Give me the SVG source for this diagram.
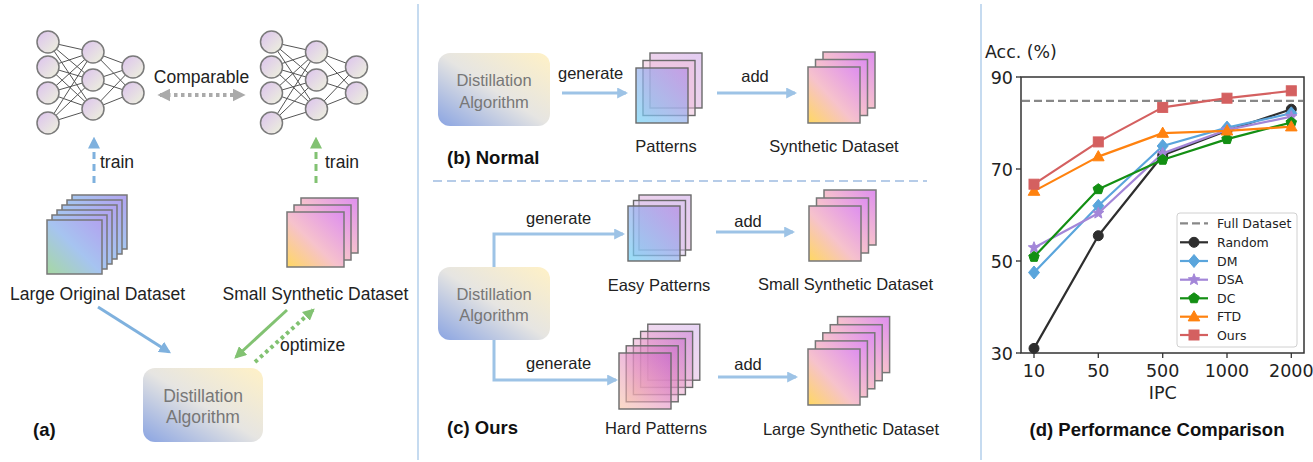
<svg xmlns="http://www.w3.org/2000/svg" xmlns:xlink="http://www.w3.org/1999/xlink" width="1313" height="462" viewBox="0 0 1313 462">
  <defs>
    <style>
      .t { font-family: "Liberation Sans", Arial, sans-serif; fill: #222; }
      .ta { font-size: 17.5px; }
      .tb { font-size: 16.5px; }
      .bold { font-family: "Liberation Sans", Arial, sans-serif; font-weight: bold; font-size: 18.5px; fill: #111; }
      .alg { font-family: "Liberation Sans", Arial, sans-serif; fill: #777; text-anchor: middle; }
      .mid { text-anchor: middle; }
      .neuron { fill: url(#gNeuron); stroke: #7a7a7a; stroke-width: 1.5; }
      .wire { fill: none; stroke: #555; stroke-width: 1; }
      .sheet { stroke: #777; stroke-width: 1.5; }
      .sheetd { stroke: #6a6a6a; stroke-width: 1.4; }
      .flow { fill: none; stroke: #9dc3e6; stroke-width: 3; }
      .ch { font-family: "DejaVu Sans", sans-serif; fill: #222; }
      .tick { stroke: #333; stroke-width: 1.3; }
      .series { fill: none; stroke-width: 2.2; stroke-linejoin: round; }
    </style>
    <linearGradient id="gNeuron" x1="0" y1="0" x2="1" y2="1">
      <stop offset="0" stop-color="#dcc2ee"/>
      <stop offset="1" stop-color="#eef3dc"/>
    </linearGradient>
    <linearGradient id="gAlgo" x1="0" y1="1" x2="1" y2="0">
      <stop offset="0" stop-color="#8aa4e2"/>
      <stop offset="0.5" stop-color="#e6e5e2"/>
      <stop offset="1" stop-color="#fff1c6"/>
    </linearGradient>
    <linearGradient id="gOrig" x1="0" y1="1" x2="1" y2="0">
      <stop offset="0" stop-color="#a6d8a2"/>
      <stop offset="0.5" stop-color="#a6c4f0"/>
      <stop offset="1" stop-color="#b2a2f0"/>
    </linearGradient>
    <linearGradient id="gSyn" x1="0" y1="1" x2="1" y2="0">
      <stop offset="0" stop-color="#ffd862"/>
      <stop offset="0.45" stop-color="#f6c2cc"/>
      <stop offset="1" stop-color="#de8ef0"/>
    </linearGradient>
    <linearGradient id="gEasy" x1="0" y1="1" x2="1" y2="0">
      <stop offset="0" stop-color="#72d2f4"/>
      <stop offset="1" stop-color="#b88ce4"/>
    </linearGradient>
    <linearGradient id="gHard" x1="0" y1="1" x2="1" y2="0">
      <stop offset="0" stop-color="#f8c4a2"/>
      <stop offset="0.5" stop-color="#e492c4"/>
      <stop offset="1" stop-color="#c668cc"/>
    </linearGradient>
    <linearGradient id="gBack" x1="0" y1="1" x2="1" y2="0">
      <stop offset="0" stop-color="#f2c6dc"/>
      <stop offset="1" stop-color="#d6b6ec"/>
    </linearGradient>
    <marker id="mBlue" viewBox="0 0 10 10" refX="8" refY="5" markerUnits="userSpaceOnUse" markerWidth="11" markerHeight="11" orient="auto">
      <path d="M0,0 L10,5 L0,10 Z" fill="#9dc3e6"/>
    </marker>
    <marker id="mBlueA" viewBox="0 0 10 10" refX="8" refY="5" markerUnits="userSpaceOnUse" markerWidth="12" markerHeight="12" orient="auto">
      <path d="M0,0 L10,5 L0,10 Z" fill="#7fb1de"/>
    </marker>
    <marker id="mGreen" viewBox="0 0 10 10" refX="8" refY="5" markerUnits="userSpaceOnUse" markerWidth="12" markerHeight="12" orient="auto">
      <path d="M0,0 L10,5 L0,10 Z" fill="#82c272"/>
    </marker>
    <marker id="mGray" viewBox="0 0 10 10" refX="8" refY="5" markerUnits="userSpaceOnUse" markerWidth="13" markerHeight="13" orient="auto-start-reverse">
      <path d="M0,0 L10,5 L0,10 Z" fill="#aaaaaa"/>
    </marker>
    <!-- chart marker shapes -->
    <circle id="pCircle" r="5"/>
    <path id="pDiamond" d="M0,-6.5 L5.5,0 L0,6.5 L-5.5,0 Z"/>
    <path id="pStar" d="M0,-6 L1.53,-2.1 L5.71,-1.85 L2.47,0.8 L3.53,4.85 L0,2.6 L-3.53,4.85 L-2.47,0.8 L-5.71,-1.85 L-1.53,-2.1 Z"/>
    <path id="pPent" d="M0,-5.5 L5.23,-1.7 L3.23,4.45 L-3.23,4.45 L-5.23,-1.7 Z"/>
    <path id="pTri" d="M0,-6 L5.8,4.2 L-5.8,4.2 Z"/>
    <rect id="pSquare" x="-5" y="-5" width="10" height="10"/>
  </defs>

  <rect width="1313" height="462" fill="#ffffff"/>

  <!-- panel separators -->
  <g id="separators">
    <line x1="418" y1="4" x2="418" y2="460" stroke="#c6dbf0" stroke-width="2"/>
    <line x1="981" y1="4" x2="981" y2="460" stroke="#c6dbf0" stroke-width="2"/>
    <line x1="433" y1="181" x2="927" y2="181" stroke="#b6cce8" stroke-width="2" stroke-dasharray="9 5"/>
  </g>

  <!-- ===== panel (a) ===== -->
  <g id="net-large">
    <path class="wire" d="M48,42 L93,52 M48,42 L93,80 M48,42 L93,109 M48,67 L93,52 M48,67 L93,80 M48,67 L93,109 M48,93 L93,52 M48,93 L93,80 M48,93 L93,109 M48,123 L93,52 M48,123 L93,80 M48,123 L93,109 M93,52 L133,67 M93,52 L133,93 M93,80 L133,67 M93,80 L133,93 M93,109 L133,67 M93,109 L133,93"/>
    <circle class="neuron" cx="48" cy="42" r="11"/>
    <circle class="neuron" cx="48" cy="67" r="11"/>
    <circle class="neuron" cx="48" cy="93" r="11"/>
    <circle class="neuron" cx="48" cy="123" r="11"/>
    <circle class="neuron" cx="93" cy="52" r="11"/>
    <circle class="neuron" cx="93" cy="80" r="11"/>
    <circle class="neuron" cx="93" cy="109" r="11"/>
    <circle class="neuron" cx="133" cy="67" r="11"/>
    <circle class="neuron" cx="133" cy="93" r="11"/>
  </g>

  <g id="net-small" transform="translate(223.5,0)">
    <path class="wire" d="M48,42 L93,52 M48,42 L93,80 M48,42 L93,109 M48,67 L93,52 M48,67 L93,80 M48,67 L93,109 M48,93 L93,52 M48,93 L93,80 M48,93 L93,109 M48,123 L93,52 M48,123 L93,80 M48,123 L93,109 M93,52 L133,67 M93,52 L133,93 M93,80 L133,67 M93,80 L133,93 M93,109 L133,67 M93,109 L133,93"/>
    <circle class="neuron" cx="48" cy="42" r="11"/>
    <circle class="neuron" cx="48" cy="67" r="11"/>
    <circle class="neuron" cx="48" cy="93" r="11"/>
    <circle class="neuron" cx="48" cy="123" r="11"/>
    <circle class="neuron" cx="93" cy="52" r="11"/>
    <circle class="neuron" cx="93" cy="80" r="11"/>
    <circle class="neuron" cx="93" cy="109" r="11"/>
    <circle class="neuron" cx="133" cy="67" r="11"/>
    <circle class="neuron" cx="133" cy="93" r="11"/>
  </g>

  <g id="dataset-large-original">
    <rect class="sheet" x="72" y="195" width="55" height="54" fill="url(#gOrig)"/>
    <rect class="sheet" x="67" y="200" width="55" height="54" fill="url(#gOrig)"/>
    <rect class="sheet" x="62" y="205" width="55" height="54" fill="url(#gOrig)"/>
    <rect class="sheet" x="57" y="210" width="55" height="54" fill="url(#gOrig)"/>
    <rect class="sheet" x="52" y="215" width="55" height="54" fill="url(#gOrig)"/>
    <rect class="sheet" x="47" y="220" width="55" height="54" fill="url(#gOrig)"/>
    <text class="t ta mid" x="97.5" y="300">Large Original Dataset</text>
  </g>

  <g id="dataset-small-synthetic-a">
    <rect class="sheet" x="301" y="198" width="57" height="55" fill="url(#gSyn)"/>
    <rect class="sheet" x="294" y="205" width="57" height="55" fill="url(#gSyn)"/>
    <rect class="sheet" x="287" y="212" width="57" height="55" fill="url(#gSyn)"/>
    <text class="t ta mid" x="315.5" y="300">Small Synthetic Dataset</text>
  </g>

  <g id="algorithm-a">
    <rect x="143" y="368" width="120" height="74" rx="12" fill="url(#gAlgo)"/>
    <text class="alg" font-size="17.5" x="203" y="402">Distillation</text>
    <text class="alg" font-size="17.5" x="203" y="423">Algorithm</text>
  </g>

  <g id="connectors-a">
    <line x1="160" y1="95" x2="243" y2="95" stroke="#aaaaaa" stroke-width="4" stroke-dasharray="3.5 3.5" marker-start="url(#mGray)" marker-end="url(#mGray)"/>
    <text class="t ta mid" x="201.5" y="83">Comparable</text>
    <line x1="94" y1="183" x2="94" y2="139" stroke="#7fb1de" stroke-width="3" stroke-dasharray="7 5" marker-end="url(#mBlueA)"/>
    <text class="t ta" x="100" y="168">train</text>
    <line x1="316" y1="183" x2="316" y2="139" stroke="#82c272" stroke-width="3" stroke-dasharray="7 5" marker-end="url(#mGreen)"/>
    <text class="t ta" x="325" y="168">train</text>
    <line x1="98" y1="307" x2="169" y2="352" stroke="#7fb1de" stroke-width="3" marker-end="url(#mBlueA)"/>
    <line x1="287" y1="310" x2="236" y2="357" stroke="#82c272" stroke-width="3" marker-end="url(#mGreen)"/>
    <line x1="255" y1="362" x2="313" y2="310" stroke="#82c272" stroke-width="4" stroke-dasharray="3.5 3.5" marker-end="url(#mGreen)"/>
    <text class="t ta" x="280" y="351">optimize</text>
  </g>

  <text class="bold" x="33" y="436">(a)</text>

  <!-- ===== panel (b) ===== -->
  <g id="algorithm-b">
    <rect x="438" y="53" width="112" height="73" rx="12" fill="url(#gAlgo)"/>
    <text class="alg" font-size="16.5" x="494" y="86">Distillation</text>
    <text class="alg" font-size="16.5" x="494" y="108">Algorithm</text>
  </g>

  <g id="patterns-b">
    <rect class="sheetd" x="650" y="53" width="52" height="55" fill="url(#gBack)" fill-opacity="0.7"/>
    <rect class="sheetd" x="643" y="60.5" width="52" height="55" fill="#eec0dc" fill-opacity="0.55"/>
    <rect class="sheetd" x="636" y="68" width="52" height="55" fill="url(#gEasy)" fill-opacity="0.7"/>
    <text class="t tb mid" x="666" y="152">Patterns</text>
  </g>

  <g id="dataset-synthetic-b">
    <rect class="sheet" x="823" y="52" width="52" height="56" fill="url(#gSyn)"/>
    <rect class="sheet" x="815.5" y="59.5" width="52" height="56" fill="url(#gSyn)"/>
    <rect class="sheet" x="808" y="67" width="52" height="56" fill="url(#gSyn)"/>
    <text class="t tb mid" x="834" y="152">Synthetic Dataset</text>
  </g>

  <g id="connectors-b">
    <line class="flow" x1="562" y1="93" x2="626" y2="93" marker-end="url(#mBlue)"/>
    <text class="t tb" x="558" y="79">generate</text>
    <line class="flow" x1="717" y1="93" x2="795" y2="93" marker-end="url(#mBlue)"/>
    <text class="t tb mid" x="755" y="82">add</text>
  </g>

  <text class="bold" x="447" y="164">(b) Normal</text>

  <!-- ===== panel (c) ===== -->
  <g id="algorithm-c">
    <rect x="438" y="267" width="112" height="73" rx="12" fill="url(#gAlgo)"/>
    <text class="alg" font-size="16.5" x="494" y="300">Distillation</text>
    <text class="alg" font-size="16.5" x="494" y="321">Algorithm</text>
  </g>

  <g id="patterns-easy">
    <rect class="sheetd" x="639" y="195" width="52" height="55" fill="url(#gBack)" fill-opacity="0.7"/>
    <rect class="sheetd" x="633.5" y="200.5" width="52" height="55" fill="#d8c4ee" fill-opacity="0.55"/>
    <rect class="sheetd" x="628" y="206" width="52" height="55" fill="url(#gEasy)" fill-opacity="0.72"/>
    <text class="t tb mid" x="659" y="291">Easy Patterns</text>
  </g>

  <g id="dataset-small-synthetic-c">
    <rect class="sheet" x="824" y="190" width="52" height="55" fill="url(#gSyn)"/>
    <rect class="sheet" x="816.5" y="198" width="52" height="55" fill="url(#gSyn)"/>
    <rect class="sheet" x="809" y="206" width="52" height="55" fill="url(#gSyn)"/>
    <text class="t tb mid" x="845.5" y="290">Small Synthetic Dataset</text>
  </g>

  <g id="patterns-hard">
    <rect class="sheetd" x="647.8" y="324.2" width="52" height="56" fill="url(#gBack)" fill-opacity="0.6"/>
    <rect class="sheetd" x="640.6" y="331.4" width="52" height="56" fill="url(#gHard)" fill-opacity="0.45"/>
    <rect class="sheetd" x="633.4" y="338.6" width="52" height="56" fill="url(#gHard)" fill-opacity="0.45"/>
    <rect class="sheetd" x="626.2" y="345.8" width="52" height="56" fill="url(#gHard)" fill-opacity="0.5"/>
    <rect class="sheetd" x="619" y="353" width="52" height="56" fill="url(#gHard)" fill-opacity="0.6"/>
    <text class="t tb mid" x="656" y="434">Hard Patterns</text>
  </g>

  <g id="dataset-large-synthetic">
    <rect class="sheet" x="837.6" y="316.6" width="52" height="56" fill="url(#gSyn)"/>
    <rect class="sheet" x="830.2" y="324.7" width="52" height="56" fill="url(#gSyn)"/>
    <rect class="sheet" x="822.8" y="332.8" width="52" height="56" fill="url(#gSyn)"/>
    <rect class="sheet" x="815.4" y="340.9" width="52" height="56" fill="url(#gSyn)"/>
    <rect class="sheet" x="808" y="349" width="52" height="56" fill="url(#gSyn)"/>
    <text class="t tb mid" x="851" y="435">Large Synthetic Dataset</text>
  </g>

  <g id="connectors-c">
    <path class="flow" d="M494,267 V234 H623" marker-end="url(#mBlue)"/>
    <text class="t tb" x="526" y="224">generate</text>
    <path class="flow" d="M494,340 V380 H616" marker-end="url(#mBlue)"/>
    <text class="t tb" x="526" y="369">generate</text>
    <line class="flow" x1="716" y1="232" x2="793" y2="232" marker-end="url(#mBlue)"/>
    <text class="t tb mid" x="748" y="227">add</text>
    <line class="flow" x1="718" y1="377" x2="796" y2="377" marker-end="url(#mBlue)"/>
    <text class="t tb mid" x="748" y="370">add</text>
  </g>

  <text class="bold" x="447" y="434">(c) Ours</text>

  <!-- ===== panel (d): accuracy vs IPC ===== -->
  <g id="chart">
    <text class="ch" font-size="17.4" x="985" y="58">Acc. (%)</text>
    <!-- y axis ticks: 90/70/50/30 -->
    <g class="tick">
      <line x1="1016" y1="77" x2="1021" y2="77"/>
      <line x1="1016" y1="169" x2="1021" y2="169"/>
      <line x1="1016" y1="261" x2="1021" y2="261"/>
      <line x1="1016" y1="353" x2="1021" y2="353"/>
      <line x1="1034" y1="353" x2="1034" y2="358"/>
      <line x1="1098.3" y1="353" x2="1098.3" y2="358"/>
      <line x1="1162.7" y1="353" x2="1162.7" y2="358"/>
      <line x1="1227" y1="353" x2="1227" y2="358"/>
      <line x1="1291.3" y1="353" x2="1291.3" y2="358"/>
    </g>
    <g class="ch" font-size="17.5" text-anchor="end">
      <text x="1013" y="83.5">90</text>
      <text x="1013" y="175.5">70</text>
      <text x="1013" y="267.5">50</text>
      <text x="1013" y="359.5">30</text>
    </g>
    <g class="ch" font-size="17.5" text-anchor="middle">
      <text x="1034" y="377">10</text>
      <text x="1098.3" y="377">50</text>
      <text x="1162.7" y="377">500</text>
      <text x="1227" y="377">1000</text>
      <text x="1291.3" y="377">2000</text>
      <text x="1162.7" y="399">IPC</text>
    </g>

    <!-- full-dataset reference -->
    <line x1="1022" y1="100.9" x2="1303" y2="100.9" stroke="#888" stroke-width="2.2" stroke-dasharray="8 4"/>

    <g id="series-random" fill="#2e2e2e" stroke="#2e2e2e">
      <polyline class="series" points="1034,348.4 1098.3,235.7 1162.7,155.2 1227,130.8 1291.3,109.2"/>
      <use href="#pCircle" x="1034" y="348.4"/><use href="#pCircle" x="1098.3" y="235.7"/><use href="#pCircle" x="1162.7" y="155.2"/><use href="#pCircle" x="1227" y="130.8"/><use href="#pCircle" x="1291.3" y="109.2"/>
    </g>
    <g id="series-dm" fill="#5aa5dc" stroke="#5aa5dc">
      <polyline class="series" points="1034,272.5 1098.3,205.8 1162.7,146 1227,127.6 1291.3,113.3"/>
      <use href="#pDiamond" x="1034" y="272.5"/><use href="#pDiamond" x="1098.3" y="205.8"/><use href="#pDiamond" x="1162.7" y="146"/><use href="#pDiamond" x="1227" y="127.6"/><use href="#pDiamond" x="1291.3" y="113.3"/>
    </g>
    <g id="series-dsa" fill="#a386d8" stroke="#a386d8">
      <polyline class="series" points="1034,247.7 1098.3,213.2 1162.7,153.4 1227,129.9 1291.3,116.6"/>
      <use href="#pStar" x="1034" y="247.7"/><use href="#pStar" x="1098.3" y="213.2"/><use href="#pStar" x="1162.7" y="153.4"/><use href="#pStar" x="1227" y="129.9"/><use href="#pStar" x="1291.3" y="116.6"/>
    </g>
    <g id="series-dc" fill="#138f13" stroke="#138f13">
      <polyline class="series" points="1034,256.9 1098.3,189.2 1162.7,159.8 1227,139.1 1291.3,122.5"/>
      <use href="#pPent" x="1034" y="256.9"/><use href="#pPent" x="1098.3" y="189.2"/><use href="#pPent" x="1162.7" y="159.8"/><use href="#pPent" x="1227" y="139.1"/><use href="#pPent" x="1291.3" y="122.5"/>
    </g>
    <g id="series-ftd" fill="#ff820f" stroke="#ff820f">
      <polyline class="series" points="1034,191.1 1098.3,156.6 1162.7,133.1 1227,130.8 1291.3,126.7"/>
      <use href="#pTri" x="1034" y="191.1"/><use href="#pTri" x="1098.3" y="156.6"/><use href="#pTri" x="1162.7" y="133.1"/><use href="#pTri" x="1227" y="130.8"/><use href="#pTri" x="1291.3" y="126.7"/>
    </g>
    <g id="series-ours" fill="#d46060" stroke="#d46060">
      <polyline class="series" points="1034,184.2 1098.3,141.9 1162.7,107.4 1227,98.2 1291.3,90.8"/>
      <use href="#pSquare" x="1034" y="184.2"/><use href="#pSquare" x="1098.3" y="141.9"/><use href="#pSquare" x="1162.7" y="107.4"/><use href="#pSquare" x="1227" y="98.2"/><use href="#pSquare" x="1291.3" y="90.8"/>
    </g>

    <rect x="1021" y="77" width="283" height="276" fill="none" stroke="#333" stroke-width="1.5"/>

    <g id="legend">
      <rect x="1177" y="213" width="120" height="134" rx="3" fill="#ffffff" fill-opacity="0.85" stroke="#d0d0d0" stroke-width="1"/>
      <line x1="1180" y1="223.3" x2="1208" y2="223.3" stroke="#888" stroke-width="2.2" stroke-dasharray="8 4"/>
      <g fill="#2e2e2e" stroke="#2e2e2e"><line x1="1180" y1="242.3" x2="1208" y2="242.3" stroke-width="2.2"/><use href="#pCircle" x="1194" y="242.3"/></g>
      <g fill="#5aa5dc" stroke="#5aa5dc"><line x1="1180" y1="261" x2="1208" y2="261" stroke-width="2.2"/><use href="#pDiamond" x="1194" y="261"/></g>
      <g fill="#a386d8" stroke="#a386d8"><line x1="1180" y1="279.7" x2="1208" y2="279.7" stroke-width="2.2"/><use href="#pStar" x="1194" y="279.7"/></g>
      <g fill="#138f13" stroke="#138f13"><line x1="1180" y1="298.3" x2="1208" y2="298.3" stroke-width="2.2"/><use href="#pPent" x="1194" y="298.3"/></g>
      <g fill="#ff820f" stroke="#ff820f"><line x1="1180" y1="316.7" x2="1208" y2="316.7" stroke-width="2.2"/><use href="#pTri" x="1194" y="316.7"/></g>
      <g fill="#d46060" stroke="#d46060"><line x1="1180" y1="335" x2="1208" y2="335" stroke-width="2.2"/><use href="#pSquare" x="1194" y="335"/></g>
      <g class="ch" font-size="12.5">
        <text x="1217" y="227.8">Full Dataset</text>
        <text x="1217" y="246.8">Random</text>
        <text x="1217" y="265.5">DM</text>
        <text x="1217" y="284.2">DSA</text>
        <text x="1217" y="302.8">DC</text>
        <text x="1217" y="321.2">FTD</text>
        <text x="1217" y="339.5">Ours</text>
      </g>
    </g>
  </g>

  <text class="bold" font-size="19.5" x="1157" y="436" text-anchor="middle">(d) Performance Comparison</text>
</svg>
